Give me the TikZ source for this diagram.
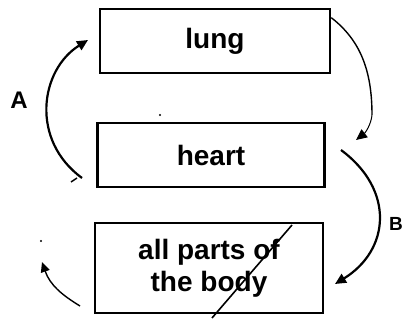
\documentclass[tikz,border=0pt]{standalone}
\usepackage{fontspec}
\setmainfont{Liberation Sans}
\usetikzlibrary{arrows.meta}
\begin{document}
\begin{tikzpicture}[x=1pt,y=-1pt,
  box/.style={draw,line width=2.6pt,inner sep=0pt,align=center,font=\bfseries\fontsize{28}{32}\selectfont},
  flow/.style={line width=2.2pt,-{Triangle[length=11pt,width=10pt]}},
  lbl/.style={font=\bfseries\fontsize{24}{26}\selectfont,inner sep=0pt}]
\useasboundingbox (0,0) rectangle (404,320);
\node[box,minimum width=230pt,minimum height=64pt] (lung) at (215,41) {lung};
\node[box,minimum width=227pt,minimum height=64pt] (heart) at (211,155) {heart};
\node[box,minimum width=228pt,minimum height=90pt] (body) at (209,268) {all parts of\\the body};
\node[lbl] (A) at (19,100) {A};
\node[lbl,font=\bfseries\fontsize{19}{21}\selectfont] (B) at (396,224) {B};
\coordinate (a0) at (82,178);
\coordinate (a1) at (88,40);
\draw[flow] (a0) .. controls (30,140) and (40,70) .. (a1);
\coordinate (r0) at ([yshift=-10pt]lung.north east);
\coordinate (r1) at (356,140);
\draw[line width=1.4pt] (r0) .. controls (360,40) and (372,70) .. (372,115);
\draw[line width=1pt,-{Triangle[length=11pt,width=10pt]}] (372,115) .. controls (371,125) and (365,133) .. (r1);
\coordinate (b0) at (341,150);
\coordinate (b1) at (335,284);
\draw[flow] (b0) .. controls (395,190) and (390,250) .. (b1);
\coordinate (c0) at (80,306);
\coordinate (c1) at (42,262);
\draw[line width=1.4pt,-{Triangle[length=10pt,width=9pt]}] (c0) .. controls (62,295) and (50,285) .. (c1);
\draw[line width=1.4pt] (71,182) -- (77,178);
\fill (41,241) circle (1.2pt);
\fill (160,115) circle (1.2pt);
\draw[line width=1.6pt] (292,225) -- (212,318);
\end{tikzpicture}
\end{document}
